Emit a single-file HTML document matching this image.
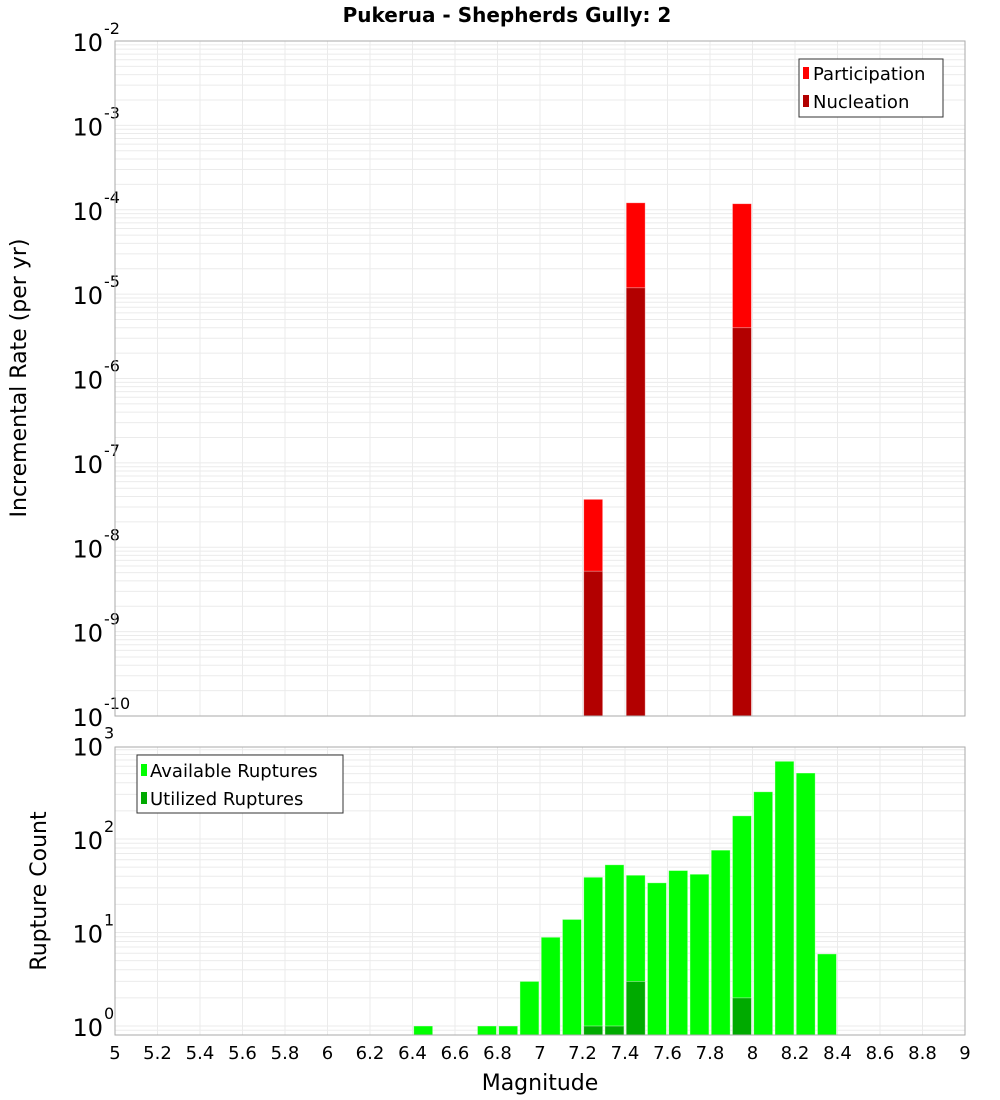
<!DOCTYPE html>
<html><head><meta charset="utf-8"><style>
html,body{margin:0;padding:0;background:#fff;}
svg{display:block;font-family:"DejaVu Sans","Liberation Sans",sans-serif;}
</style></head><body>
<svg id="chart" width="1000" height="1100" viewBox="0 0 1000 1100">
<text x="507" y="22" text-anchor="middle" font-size="20" font-weight="bold">Pukerua - Shepherds Gully: 2</text>
<text transform="translate(26,378) rotate(-90)" text-anchor="middle" font-size="22">Incremental Rate (per yr)</text>
<text transform="translate(46,891) rotate(-90)" text-anchor="middle" font-size="22">Rupture Count</text>
<text x="540" y="1090" text-anchor="middle" font-size="22">Magnitude</text>
<g id="top"></g><g id="bot"></g>
<g>
<rect x="799" y="59" width="144" height="58" fill="#fff" stroke="#333" stroke-width="1"/>
<rect x="803" y="67" width="6" height="12" fill="#ff0000"/>
<text x="813" y="80" font-size="18">Participation</text>
<rect x="803" y="95" width="6" height="12" fill="#b20000"/>
<text x="813" y="108" font-size="18">Nucleation</text>
</g>
<g>
<rect x="137" y="755" width="206" height="58" fill="#fff" stroke="#333" stroke-width="1"/>
<rect x="141" y="764" width="6" height="12" fill="#00ff00"/>
<text x="150" y="777" font-size="18">Available Ruptures</text>
<rect x="141" y="792" width="6" height="12" fill="#00aa00"/>
<text x="150" y="805" font-size="18">Utilized Ruptures</text>
</g>
</svg>
<script>
const topMags=[7.25,7.45,7.95];
const participation=[3.7e-8,1.21e-4,1.18e-4];
const nucleation=[5.2e-9,1.19e-5,4.0e-6];
const botMags=[6.45,6.75,6.85,6.95,7.05,7.15,7.25,7.35,7.45,7.55,7.65,7.75,7.85,7.95,8.05,8.15,8.25,8.35];
const available=[1,1,1,3,8.9,13.8,39,53,41,34,46,42,76,177,320,678,508,5.9];
const utilMags=[7.25,7.35,7.45,7.95];
const utilized=[1,1,3,2];
const xTicks=[5,5.2,5.4,5.6,5.8,6,6.2,6.4,6.6,6.8,7,7.2,7.4,7.6,7.8,8,8.2,8.4,8.6,8.8,9];
const topExp=[-10,-9,-8,-7,-6,-5,-4,-3,-2];
const botExp=[0,1,2,3];

const NS="http://www.w3.org/2000/svg";
const X0=115,X1=965;
const x=m=>X0+(m-5)/4*(X1-X0);
const yTop=v=>716-(Math.log10(v)+10)*84.375;
const yBot=v=>1026-Math.log10(v)*93.5;
function mk(p,tag,a){const e=document.createElementNS(NS,tag);for(const k in a)e.setAttribute(k,a[k]);p.appendChild(e);return e;}
function panel(g,top,bot,yf,exps,name){
  mk(g,'rect',{x:X0,y:top,width:X1-X0,height:bot-top,fill:'#fff'});
  for(let d=exps[0]-1;d<=exps[exps.length-1];d++)for(let k=1;k<10;k++){
    const yy=yf(k*Math.pow(10,d)); if(yy<top||yy>bot)continue;
    const l=mk(g,'line',{x1:X0,x2:X1,y1:yy,y2:yy,stroke:'#ebebeb','stroke-width':1});
    
    
  }
  xTicks.forEach(t=>{const l=mk(g,'line',{x1:x(t),x2:x(t),y1:top,y2:bot,stroke:'#ebebeb','stroke-width':1});
    
    });
  exps.forEach(e=>{const yy=yf(Math.pow(10,e));
    const t=mk(g,'text',{x:103,y:yy+10,'text-anchor':'end','font-size':24});
    t.textContent='10';
    
    
    const s=mk(g,'text',{x:104,y:yy-7,'font-size':16});s.textContent=String(e);
    
    });
}
function bar(g,m,v,yf,bot,fill,name){
  const yy=Math.max(yf(v),0);
  const r=mk(g,'rect',{x:x(m-0.05)+1.2,y:yy,width:19,height:bot-yy,fill:fill,stroke:'rgba(255,255,255,0.5)','stroke-width':0.8});
  
  
}
const gt=document.getElementById('top'),gb=document.getElementById('bot');
panel(gt,41,716,yTop,topExp,'top');
topMags.forEach((m,i)=>bar(gt,m,participation[i],yTop,716,'#ff0000','participation-bar'));
topMags.forEach((m,i)=>bar(gt,m,nucleation[i],yTop,716,'#b20000','nucleation-bar'));
mk(gt,'rect',{x:X0,y:41,width:X1-X0,height:675,fill:'none',stroke:'#aaa','stroke-width':1});
panel(gb,747,1035,yBot,botExp,'bottom');
botMags.forEach((m,i)=>bar(gb,m,available[i],yBot,1035,'#00ff00','available-bar'));
utilMags.forEach((m,i)=>bar(gb,m,utilized[i],yBot,1035,'#00aa00','utilized-bar'));
mk(gb,'rect',{x:X0,y:747,width:X1-X0,height:288,fill:'none',stroke:'#aaa','stroke-width':1});
xTicks.forEach(t=>{const e=mk(gb,'text',{x:x(t),y:1059,'text-anchor':'middle','font-size':18});
  e.textContent=String(t);
  
  });
</script>
</body></html>
